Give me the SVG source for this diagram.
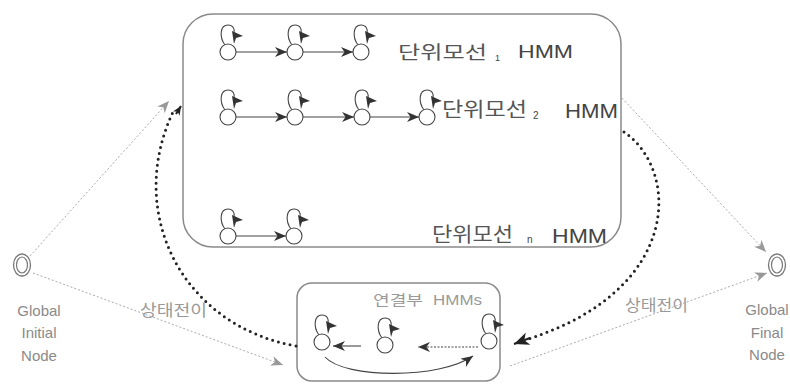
<svg xmlns="http://www.w3.org/2000/svg" xmlns:xlink="http://www.w3.org/1999/xlink" width="790" height="384" viewBox="0 0 790 384">
<style>
.box{fill:none;stroke:#8a8a8a;stroke-width:1.5}
.st circle{fill:#fff;stroke:#444;stroke-width:1.1}
.st path{fill:none;stroke:#444;stroke-width:1.1}
.st polygon{fill:#333}
.arr{stroke:#444;stroke-width:1.1;fill:none;marker-end:url(#ah)}
.gd{stroke:#aaa;stroke-width:1;fill:none;stroke-dasharray:2 2;marker-end:url(#ag)}
.bd{stroke:#222;stroke-width:3;fill:none;stroke-dasharray:0 6;stroke-linecap:round}
.kr{font-family:"Noto Sans CJK KR","Noto Sans",sans-serif;fill:#555}
.la{font-family:"Liberation Sans",Arial,sans-serif;fill:#444}
.gl{font-family:"Liberation Sans",Arial,sans-serif;fill:#8a8a8a;font-size:15px;text-anchor:middle}
.lt{font-family:"Noto Sans CJK KR","Noto Sans",sans-serif;fill:#999}
</style>
<defs>
<marker id="ah" markerUnits="userSpaceOnUse" markerWidth="13" markerHeight="10" refX="12" refY="5" orient="auto" viewBox="0 0 13 10"><path d="M0,0 L12,5 L0,10 L3.5,5 z" fill="#333"/></marker>
<marker id="ag" markerUnits="userSpaceOnUse" markerWidth="13" markerHeight="10" refX="12" refY="5" orient="auto" viewBox="0 0 13 10"><path d="M0,0 L12,5 L0,10 L3.5,5 z" fill="#999"/></marker>
<marker id="ab" markerUnits="userSpaceOnUse" markerWidth="16" markerHeight="13" refX="15" refY="6.5" orient="auto" viewBox="0 0 16 13"><path d="M0,0 L15,6.5 L0,13 L4,6.5 z" fill="#222"/></marker>
<marker id="abs" markerUnits="userSpaceOnUse" markerWidth="10" markerHeight="8" refX="9" refY="4" orient="auto" viewBox="0 0 10 8"><path d="M0,0 L9,4 L0,8 L2.5,4 z" fill="#222"/></marker>
<g id="nd" class="st">
<path d="M-3,-7 C-9,-15 -8,-27 0,-27 C5,-27 7,-23 6,-19"/>
<polygon points="4,-21 15,-16 8,-14 6,-8"/>
<circle cx="0" cy="0" r="8"/>
</g>
<g id="ef"><ellipse cx="0" cy="0" rx="8.5" ry="11" fill="none" stroke="#777" stroke-width="1.3"/><ellipse cx="0" cy="0" rx="5.5" ry="8" fill="none" stroke="#777" stroke-width="1.2"/></g>
</defs>
<rect width="790" height="384" fill="#fff"/>

<g id="unit-box"><rect class="box" x="183" y="14" width="438" height="233" rx="30"/></g>
<g id="link-box"><rect class="box" x="297" y="283" width="203" height="98" rx="15"/>
<text class="lt" x="373" y="305" font-size="14" textLength="50" lengthAdjust="spacingAndGlyphs">연결부</text>
<text x="433" y="305" font-size="14" font-family="Liberation Sans, Arial, sans-serif" fill="#999" textLength="49" lengthAdjust="spacingAndGlyphs">HMMs</text>
</g>

<g id="connectors">
<line class="arr" x1="236" y1="52" x2="287" y2="52"/>
<line class="arr" x1="303" y1="52" x2="353" y2="52"/>
<line class="arr" x1="236" y1="117" x2="287" y2="117"/>
<line class="arr" x1="303" y1="117" x2="354" y2="117"/>
<line class="arr" x1="370" y1="117" x2="419" y2="117"/>
<line class="arr" x1="236" y1="236" x2="286" y2="236"/>
<line class="arr" x1="361" y1="346" x2="333" y2="346"/>
<line x1="478" y1="347" x2="418" y2="347" stroke="#444" stroke-width="1.1" stroke-dasharray="2 1.5" marker-end="url(#ah)"/>
<path class="arr" d="M325,357 C345,379 440,379 473,356"/>
<line class="gd" x1="30" y1="256" x2="169" y2="101"/>
<line class="gd" x1="33" y1="273" x2="283" y2="365"/>
<line class="gd" x1="622" y1="98" x2="766" y2="252"/>
<line class="gd" x1="510" y1="366" x2="767" y2="273"/>
<path class="bd" d="M296,346 C180,325 125,210 174,110"/>
<path d="M176,114 L181,106" stroke="#222" stroke-width="2" fill="none" marker-end="url(#abs)"/>
<path class="bd" d="M624,132 C680,170 682,290 528,339"/>
<path d="M530,338 L514,344" stroke="#222" stroke-width="2" fill="none" marker-end="url(#ab)"/>
<text class="lt" x="140" y="316" font-size="16" textLength="67" lengthAdjust="spacingAndGlyphs">상태전이</text>
<text class="lt" x="625" y="311" font-size="16" textLength="63" lengthAdjust="spacingAndGlyphs">상태전이</text>
</g>

<g id="hmm1">
<g id="s1-1"><use href="#nd" x="228" y="52"/></g>
<g id="s1-2"><use href="#nd" x="295" y="52"/></g>
<g id="s1-3"><use href="#nd" x="361" y="52"/></g>
<text class="kr" x="398" y="59" font-size="18" textLength="89" lengthAdjust="spacingAndGlyphs">단위모선</text>
<text class="la" x="495" y="61" font-size="9">1</text>
<text class="la" x="518" y="58" font-size="18" textLength="55" lengthAdjust="spacingAndGlyphs">HMM</text>
</g>
<g id="hmm2">
<g id="s2-1"><use href="#nd" x="228" y="117"/></g>
<g id="s2-2"><use href="#nd" x="295" y="117"/></g>
<g id="s2-3"><use href="#nd" x="362" y="117"/></g>
<g id="s2-4"><use href="#nd" x="427" y="117"/></g>
<text class="kr" x="442" y="117" font-size="20" textLength="85" lengthAdjust="spacingAndGlyphs">단위모선</text>
<text class="la" x="533" y="119" font-size="10">2</text>
<text class="la" x="565" y="118" font-size="21" textLength="53" lengthAdjust="spacingAndGlyphs">HMM</text>
</g>
<g id="hmmn">
<g id="sn-1"><use href="#nd" x="228" y="236"/></g>
<g id="sn-2"><use href="#nd" x="294" y="236"/></g>
<text class="kr" x="432" y="242" font-size="20" textLength="81" lengthAdjust="spacingAndGlyphs">단위모선</text>
<text class="la" x="527" y="243" font-size="10">n</text>
<text class="la" x="552" y="243" font-size="21" textLength="55" lengthAdjust="spacingAndGlyphs">HMM</text>
</g>
<g id="link-states">
<g id="c-1"><use href="#nd" x="322" y="342"/></g>
<g id="c-2"><use href="#nd" x="385" y="345"/></g>
<g id="c-3"><use href="#nd" x="489" y="341"/></g>
</g>

<g id="global-initial">
<use href="#ef" x="22" y="265"/>
<text class="gl" x="39" y="316">Global</text>
<text class="gl" x="39" y="338">Initial</text>
<text class="gl" x="39" y="361">Node</text>
</g>
<g id="global-final">
<use href="#ef" x="777" y="265"/>
<text class="gl" x="767" y="315">Global</text>
<text class="gl" x="767" y="338">Final</text>
<text class="gl" x="767" y="360">Node</text>
</g>
</svg>
